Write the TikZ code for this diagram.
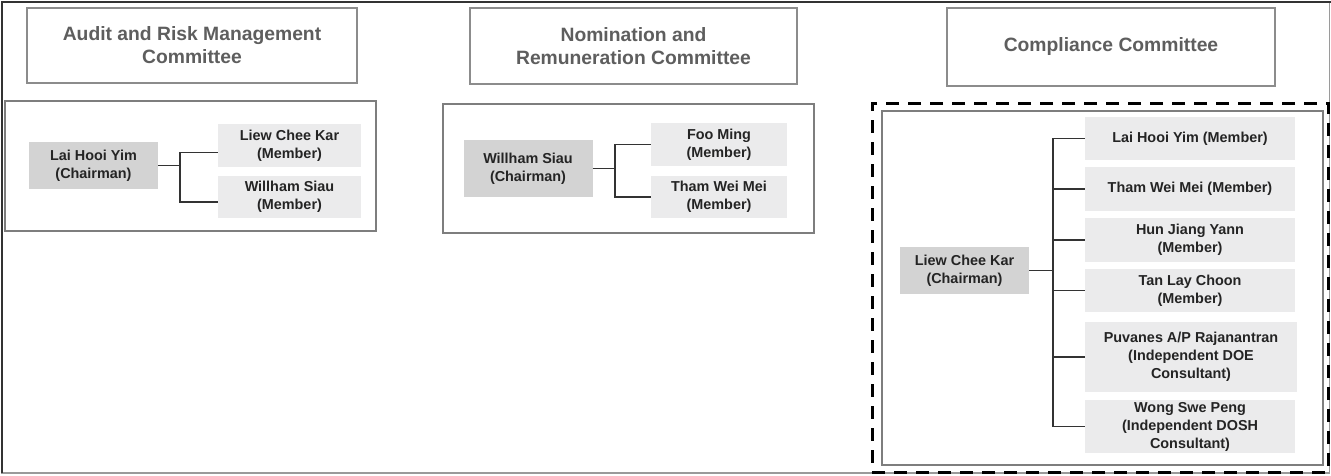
\documentclass[tikz,border=0pt]{standalone}
\usepackage{fontspec}
\setmainfont{Liberation Sans}
\usetikzlibrary{calc}
\definecolor{frameDark}{HTML}{333333}
\definecolor{frameLight}{HTML}{9A9A9A}
\definecolor{headLine}{HTML}{8C8C8C}
\definecolor{headText}{HTML}{5E5E5E}
\definecolor{groupLine}{HTML}{7E7E7E}
\definecolor{chairFill}{HTML}{D3D3D3}
\definecolor{memberFill}{HTML}{EBEBEC}
\definecolor{bodyText}{HTML}{242424}
\begin{document}
\begin{tikzpicture}[x=1pt,y=-1pt,
  header/.style={draw=headLine, line width=1.8pt, fill=white, inner sep=0pt,
    align=center, text=headText, font=\fontsize{19.3}{23}\selectfont\bfseries},
  groupbox/.style={draw=groupLine, line width=2.2pt, inner sep=0pt},
  chair/.style={fill=chairFill, inner sep=0pt, align=center, text=bodyText,
    minimum width=129pt, font=\fontsize{14.4}{18}\selectfont\bfseries},
  member/.style={fill=memberFill, inner sep=0pt, align=center, text=bodyText,
    font=\fontsize{14.4}{18}\selectfont\bfseries},
  link/.style={draw=frameDark, line width=1.6pt}
]
\useasboundingbox (0,0) rectangle (1331,475);

% outer frame
\draw[frameLight, line width=1.5pt] (2,2) rectangle (1329.5,473);
\draw[frameDark, line width=2pt] (2,473) -- (2,2) -- (1331,2);

% committee headers
\node[header, minimum width=330pt, minimum height=75pt] (h1) at (192,45.5)
  {Audit and Risk Management\\Committee};
\node[header, minimum width=327pt, minimum height=76pt] (h2) at (633.5,46)
  {Nomination and\\Remuneration Committee};
\node[header, minimum width=328pt, minimum height=78pt] (h3) at (1111,47)
  {Compliance Committee};

% group frames
\node[groupbox, minimum width=371pt, minimum height=130pt] (g1) at (190.5,166) {};
\node[groupbox, minimum width=371pt, minimum height=129pt] (g2) at (628.5,168.5) {};
\node[draw=black, line width=3pt, dash pattern=on 13pt off 9pt, inner sep=0pt,
  minimum width=456pt, minimum height=369pt] (g3d) at (1100,287.5) {};
\node[groupbox, minimum width=441pt, minimum height=354pt] (g3) at (1102.5,288) {};

% Audit and Risk Management Committee
\node[chair, minimum height=47pt] (a0) at (93.5,165.5) {Lai Hooi Yim\\(Chairman)};
\node[member, minimum width=143pt, minimum height=43pt] (a1) at (289.5,145.5)
  {Liew Chee Kar\\(Member)};
\node[member, minimum width=143pt, minimum height=42pt] (a2) at (289.5,197)
  {Willham Siau\\(Member)};
\coordinate (aj) at ($(a0.east)+(22,0)$);
\draw[link] (a0.east) -- (aj);
\draw[link] ([yshift=-7pt]a1.west) -| (aj) |- ([yshift=-5pt]a2.west);

% Nomination and Remuneration Committee
\node[chair, minimum height=57pt] (n0) at (528,168.5) {Willham Siau\\(Chairman)};
\node[member, minimum width=136pt, minimum height=43pt] (n1) at (719,144.5)
  {Foo Ming\\(Member)};
\node[member, minimum width=136pt, minimum height=42pt] (n2) at (719,197)
  {Tham Wei Mei\\(Member)};
\coordinate (nj) at ($(n0.east)+(22,0)$);
\draw[link] (n0.east) -- (nj);
\draw[link] (n1.west) -| (nj) |- (n2.west);

% Compliance Committee
\node[chair, minimum height=47pt] (c0) at (964.5,270.5) {Liew Chee Kar\\(Chairman)};
\node[member, minimum width=210pt, minimum height=43pt] (c1) at (1190,138.5)
  {Lai Hooi Yim (Member)};
\node[member, minimum width=210pt, minimum height=44pt] (c2) at (1190,189)
  {Tham Wei Mei (Member)};
\node[member, minimum width=210pt, minimum height=44pt] (c3) at (1190,240)
  {Hun Jiang Yann\\(Member)};
\node[member, minimum width=210pt, minimum height=43pt] (c4) at (1190,290.5)
  {Tan Lay Choon\\(Member)};
\node[member, minimum width=212pt, minimum height=70pt] (c5) at (1191,357)
  {Puvanes A/P Rajanantran\\(Independent DOE\\Consultant)};
\node[member, minimum width=210pt, minimum height=53pt] (c6) at (1190,426.5)
  {Wong Swe Peng\\(Independent DOSH\\Consultant)};
\coordinate (cj) at ($(c0.east)+(24,0)$);
\draw[link] (c0.east) -- (cj);
\draw[link] (c1.west) -| (cj) |- (c6.west);
\foreach \m in {c2,c3,c4,c5}
  \draw[link] (cj |- \m.west) -- (\m.west);
\end{tikzpicture}
\end{document}
